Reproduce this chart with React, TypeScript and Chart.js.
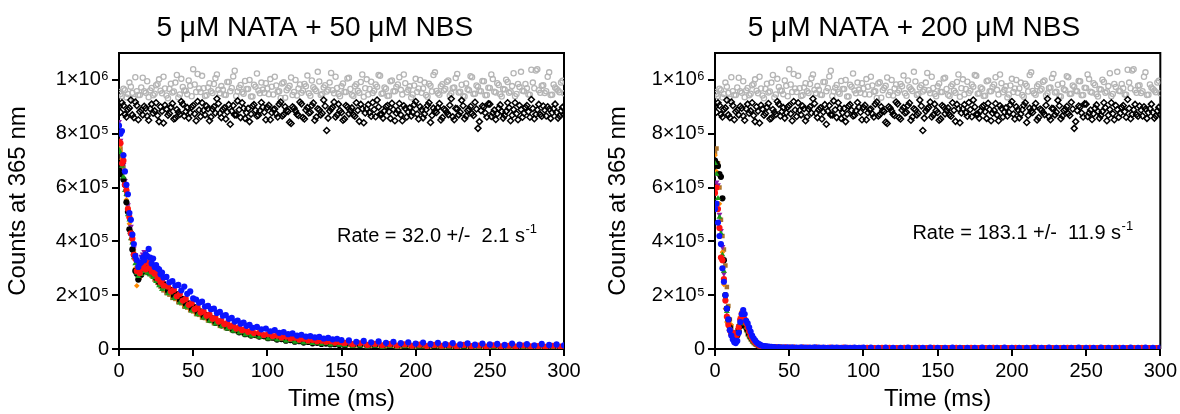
import React, { useEffect, useRef } from 'react';
import { Chart, registerables } from 'chart.js';

Chart.register(...registerables);

// ---------- DATA (values in thousands of counts) ----------
const Y_TICKS = [0, 200, 400, 600, 800, 1000];
const Y_TICK_TEXT = ['0', '2×10⁵', '4×10⁵', '6×10⁵', '8×10⁵', '1×10⁶'];
const X_TICKS = [0, 50, 100, 150, 200, 250, 300];

const TIME_BASE = [0,2,4,6,8,10,12,14,16,18,20,22,24,26,28,30,32,34,36,38,40,42,44,46,48,50,52,54,56,58,60,62,64,66,68,70,72,74,76,78,80,82,84,86,88,90,92,94,96,98,100,102,104,106,108,110,112,114,116,118,120,122,124,126,128,130,132,134,136,138,140,142,144,146,148,150,152,154,156,158,160,162,164,166,168,170,172,174,176,178,180,182,184,186,188,190,192,194,196,198,200,202,204,206,208,210,212,214,216,218,220,222,224,226,228,230,232,234,236,238,240,242,244,246,248,250,252,254,256,258,260,262,264,266,268,270,272,274,276,278,280,282,284,286,288,290,292,294,296,298,300];
const TIME_BASE_ODD = [1,3,5,7,9,11,13,15,17,19,21,23,25,27,29,31,33,35,37,39,41,43,45,47,49,51,53,55,57,59,61,63,65,67,69,71,73,75,77,79,81,83,85,87,89,91,93,95,97,99,101,103,105,107,109,111,113,115,117,119,121,123,125,127,129,131,133,135,137,139,141,143,145,147,149,151,153,155,157,159,161,163,165,167,169,171,173,175,177,179,181,183,185,187,189,191,193,195,197,199,201,203,205,207,209,211,213,215,217,219,221,223,225,227,229,231,233,235,237,239,241,243,245,247,249,251,253,255,257,259,261,263,265,267,269,271,273,275,277,279,281,283,285,287,289,291,293,295,297,299];

const CONTROL_GRAY = [
  955, 940, 962, 948, 975, 930, 958, 944, 1008, 952,
  936, 970, 949, 985, 960, 1012, 942, 966, 953, 990,
  935, 1004, 961, 947, 978, 1040, 955, 968, 1015, 940,
  972, 958, 985, 1020, 950, 963, 944, 992, 970, 1034,
  957, 981, 949, 966, 1000, 938, 975, 961, 990, 952,
  968, 1003, 946, 979, 958, 987, 934, 970, 1009, 955,
  942, 983, 961, 976, 950, 998, 965, 1030, 944, 972,
  957, 990, 962, 1012, 948, 976, 955, 1005, 966, 940,
  984, 952, 1020, 969, 946, 993, 960, 975, 1015, 950,
  967, 941, 998, 958, 983, 963, 1020, 954, 976, 946,
  1004, 968, 952, 990, 937, 978, 1018, 959, 945, 984,
  966, 998, 950, 972, 1022, 956, 940, 987, 962, 1010,
  949, 975, 958, 995, 944, 970, 1003, 953, 981, 938,
  964, 992, 957, 1025, 948, 974, 960, 985, 946, 1038,
  969, 1040, 952, 980, 958, 1028, 945, 972, 961, 990,
  950,
];
const CONTROL_GRAY_ODD = [
  948, 967, 935, 990, 952, 1010, 944, 972, 958, 995,
  961, 943, 980, 1002, 950, 968, 932, 986, 957, 1018,
  946, 974, 960, 998, 939, 983, 1022, 955, 969, 943,
  988, 951, 1006, 963, 977, 945, 992, 958, 1013, 940,
  971, 954, 996, 966, 938, 982, 1024, 950, 964, 988,
  947, 975, 1012, 956, 933, 991, 962, 978, 944, 1000,
  968, 952, 985, 1016, 941, 973, 959, 994, 948, 980,
  963, 1026, 950, 970, 939, 987, 955, 1008, 945, 976,
  960, 992, 937, 1002, 966, 951, 983, 1018, 949, 972,
  940, 995, 958, 974, 1010, 946, 988, 963, 935, 979,
  955, 1000, 968, 944, 986, 957, 1028, 950, 976, 961,
  993, 942, 970, 1007, 953, 982, 938, 965, 1014, 948,
  979, 960, 996, 943, 971, 1020, 956, 988, 947, 966,
  1001, 952, 977, 939, 985, 1030, 958, 969, 945, 990,
  1035, 962, 978, 951, 1012, 944, 983, 966, 954, 997,
];

const CONTROL_BLACK = [
  900, 915, 872, 890, 925, 860, 905, 882, 870, 895,
  850, 910, 885, 868, 900, 840, 892, 875, 912, 858,
  880, 920, 866, 897, 878, 905, 848, 888, 915, 870,
  893, 862, 900, 930, 876, 890, 855, 908, 884, 870,
  922, 860, 895, 878, 845, 903, 887, 869, 916, 880,
  898, 852, 890, 874, 910, 866, 900, 883, 838, 895,
  872, 918, 860, 888, 877, 905, 850, 893, 870, 925,
  812, 884, 898, 862, 910, 879, 855, 900, 886, 870,
  915, 846, 893, 877, 908, 865, 890, 925, 872, 858,
  900, 882, 913, 848, 887, 870, 904, 862, 896, 880,
  920, 855, 889, 873, 906, 842, 895, 879, 912, 860,
  888, 871, 930, 852, 893, 880, 904, 866, 891, 875,
  917, 820, 886, 899, 862, 910, 877, 853, 895, 883,
  868, 915, 848, 890, 874, 905, 861, 898, 882, 927,
  856, 889, 871, 903, 866, 892, 878, 910, 858, 885,
  870,
];
const CONTROL_BLACK_ODD = [
  880, 905, 862, 896, 870, 918, 852, 888, 902, 866,
  893, 876, 915, 845, 884, 906, 869, 898, 855, 890,
  872, 910, 882, 858, 899, 874, 920, 864, 887, 903,
  848, 892, 877, 912, 860, 896, 881, 835, 905, 870,
  889, 915, 857, 894, 873, 908, 866, 885, 899, 852,
  906, 878, 892, 862, 918, 871, 887, 843, 900, 884,
  868, 911, 855, 897, 880, 914, 862, 889, 876, 903,
  858, 893, 918, 870, 886, 850, 905, 874, 896, 865,
  887, 909, 841, 893, 878, 916, 863, 899, 872, 885,
  905, 857, 890, 876, 912, 848, 894, 881, 866, 908,
  873, 900, 859, 889, 915, 868, 884, 897, 851, 892,
  879, 906, 863, 894, 870, 924, 856, 886, 901, 868,
  892, 845, 903, 877, 911, 864, 888, 874, 907, 858,
  883, 897, 869, 915, 852, 890, 876, 905, 861, 894,
  872, 909, 865, 888, 900, 857, 893, 879, 866, 898,
];

// Left panel (50 µM NBS)
const TIME_LEFT = [0,1,2,3,4,5,6,7,8,9,10,11,12,13,14,15,16,17,18,19,20,21,22,23,24,25,26,27,28,29,30,
  32,34,36,38,40,42,44,46,48,50,52,54,56,58,60,62,64,66,68,70,72,74,76,78,80,82,84,86,88,90,
  93,96,99,102,105,108,111,114,117,120,123,126,129,132,135,138,141,144,147,150,
  155,160,165,170,175,180,185,190,195,200,205,210,215,220,225,230,235,240,245,250,255,260,265,270,275,280,285,290,295,300];
const TIME_LEFT_B = [0,1,2,3,4,5,6,7,8,9,10,11,12,13,14,15,16,17,18,19,20,21,22,23,24,25,26,27,28,29,30,
  33,35,37,39,41,43,45,47,49,51,53,55,57,59,61,63,65,67,69,71,73,75,77,79,81,83,85,87,89,91,
  94.5,97.5,100.5,103.5,106.5,109.5,112.5,115.5,118.5,121.5,124.5,127.5,130.5,133.5,136.5,139.5,142.5,145.5,148.5,151.5,
  152.5,157.5,162.5,167.5,172.5,177.5,182.5,187.5,192.5,197.5,202.5,207.5,212.5,217.5,222.5,227.5,232.5,237.5,242.5,247.5,252.5,257.5,262.5,267.5,272.5,277.5,282.5,287.5,292.5,297.5];

const LEFT_BLUE = [830,800,810,720,660,610,575,505,480,425,390,345,330,305,318,322,340,330,352,345,372,340,318,336,305,312,300,296,278,284,266,
  268,248,252,236,238,218,232,205,214,188,184,172,176,158,160,148,150,134,138,124,126,112,116,102,106,94,98,86,90,79,
  82,73,76,66,70,60,63,55,58,50,53,46,48,43,45,39,41,36,38,33,
  32,27,30,25,28,23,27,22,25,20,24,19,23,18,22,17,21,16,20,17,19,15,20,16,18,14,19,15,17,14];
const LEFT_RED = [770,765,690,700,610,590,520,490,430,410,350,335,290,295,282,308,300,318,296,322,300,312,288,300,280,286,262,270,248,256,236,
  232,214,220,196,204,180,186,164,170,148,154,136,140,124,128,112,116,102,106,92,96,84,88,76,80,70,73,64,67,59,
  60,52,55,48,50,43,46,39,42,35,38,32,34,29,31,27,29,24,26,22,
  23,18,21,15,19,14,18,13,17,12,16,11,15,12,14,10,15,11,13,9,14,10,12,9,13,10,11,8,12,9];
const LEFT_GREEN = [740,730,680,640,590,575,500,480,410,395,340,318,282,270,286,278,296,288,304,282,298,276,286,266,270,252,258,236,244,222,228,
  206,210,188,194,172,178,156,162,142,148,128,134,116,120,104,108,94,97,84,87,75,78,67,70,60,63,53,56,48,50,
  44,46,38,41,34,36,30,32,26,28,23,25,21,22,18,20,16,18,15,16,
  13,10,12,8,11,7,10,6,9,7,8,5,9,6,7,4,8,5,6,3,7,4,6,3,5,4,6,3,5,4];
const LEFT_BLACK = [665,650,690,630,610,545,510,445,430,370,350,290,280,258,288,276,305,290,312,296,284,302,292,280,286,264,270,248,256,236,240,
  216,220,198,204,182,186,166,170,150,156,136,140,122,126,110,114,98,102,88,91,79,82,70,73,62,65,55,58,50,52,
  46,48,40,42,35,37,31,33,27,29,24,26,21,23,19,20,17,18,15,16,
  14,11,13,9,12,8,11,7,10,8,9,6,10,7,8,5,9,6,7,4,8,5,7,4,6,5,7,3,6,4];
const LEFT_ORANGE = [750,735,705,655,615,555,525,465,435,395,355,300,235,272,268,284,290,305,284,300,296,288,290,276,272,262,260,246,248,234,232,
  216,212,198,192,180,176,162,160,147,145,133,131,120,118,108,107,97,96,87,86,78,78,71,70,64,63,57,57,52,51,
  47,46,42,41,38,37,34,33,30,30,27,27,24,24,22,22,20,19,18,18,
  16,14,15,12,14,11,13,10,12,10,11,9,11,8,10,8,10,7,9,7,9,6,8,7,8,6,8,6,7,6];
const LEFT_BROWN = [760,745,715,675,615,575,525,485,435,415,365,335,295,284,266,282,286,302,292,294,282,284,272,272,258,258,246,244,232,230,218,
  208,202,190,186,174,170,158,154,144,140,130,127,117,115,106,104,96,94,86,85,78,77,71,69,64,63,58,57,52,52,
  48,46,43,42,39,38,35,34,31,31,28,28,25,25,23,22,21,20,19,18,
  17,15,16,13,15,12,14,11,13,11,12,10,12,9,11,9,10,8,10,8,9,7,9,8,8,7,9,6,8,7];
const LEFT_PURPLE = [845,775,725,685,625,595,535,505,455,425,375,350,315,314,318,344,352,362,346,344,326,324,312,308,292,288,276,272,260,258,246,
  238,224,218,204,200,186,182,170,166,154,150,140,137,126,124,114,112,103,102,93,92,84,84,76,76,70,69,64,63,58,
  56,52,51,47,47,43,43,39,39,36,36,33,33,30,30,28,28,26,26,24,
  23,20,22,18,21,17,20,16,19,15,18,14,17,14,16,13,16,12,15,12,14,11,14,11,13,11,13,10,12,10];

// Right panel (200 µM NBS)
const TIME_RIGHT = [0,1,2,3,4,5,6,7,8,9,10,11,12,13,14,15,16,17,18,19,20,21,22,23,24,25,26,27,28,29,30,31,32,33,34,35,36,37,38,39,40,
  43,46,49,52,55,58,61,64,67,70,73,76,79,82,85,88,91,94,97,100,
  105,110,115,120,125,130,135,140,145,150,155,160,165,170,175,180,185,190,195,200,205,210,215,220,225,230,235,240,245,250,255,260,265,270,275,280,285,290,295,300];
const TIME_RIGHT_B = [0,1,2,3,4,5,6,7,8,9,10,11,12,13,14,15,16,17,18,19,20,21,22,23,24,25,26,27,28,29,30,31,32,33,34,35,36,37,38,39,40,
  41.5,44.5,47.5,50.5,53.5,56.5,59.5,62.5,65.5,68.5,71.5,74.5,77.5,80.5,83.5,86.5,89.5,92.5,95.5,98.5,
  102.5,107.5,112.5,117.5,122.5,127.5,132.5,137.5,142.5,147.5,152.5,157.5,162.5,167.5,172.5,177.5,182.5,187.5,192.5,197.5,202.5,207.5,212.5,217.5,222.5,227.5,232.5,237.5,242.5,247.5,252.5,257.5,262.5,267.5,272.5,277.5,282.5,287.5,292.5,297.5];

const RIGHT_BLUE = [520,540,470,420,390,300,250,200,150,110,70,50,35,25,22,30,60,100,130,145,130,105,95,80,65,50,40,32,25,20,17,14,12,11,10,9,9,8,8,7,7,
  7,6,6,6,5,6,5,5,6,5,5,4,5,5,4,5,4,5,4,5,
  5,4,5,4,4,5,4,4,5,4,4,5,4,4,4,5,4,4,5,4,4,4,5,4,5,4,4,4,5,4,4,5,4,4,4,5,4,5,4,5];
const RIGHT_RED = [580,600,520,450,340,330,260,180,120,90,70,55,60,45,40,55,80,110,130,125,110,95,80,65,50,40,32,25,20,16,13,11,10,9,8,8,7,7,6,6,6,
  6,5,6,5,5,4,5,5,4,5,4,4,5,4,4,5,4,4,3,4,
  4,3,4,4,3,4,3,4,3,4,3,3,4,3,4,3,3,4,3,3,4,3,3,4,3,3,3,4,3,3,4,3,3,3,4,3,3,4,3,3];
const RIGHT_GREEN = [690,650,560,490,430,350,290,190,140,100,80,60,50,40,45,55,70,95,110,105,95,80,65,50,40,32,25,20,16,13,11,9,8,7,7,6,6,5,5,5,5,
  5,4,4,4,3,4,3,3,4,3,3,3,2,3,3,2,3,2,3,2,
  2,3,2,2,3,2,2,2,3,2,2,2,3,2,2,2,2,3,2,2,2,3,2,2,2,2,3,2,2,2,2,3,2,2,2,2,3,2,2,2];
const RIGHT_BLACK = [700,690,680,650,640,560,330,200,150,110,80,62,50,42,40,50,65,85,100,105,95,80,70,55,45,36,30,25,20,17,14,12,10,9,8,8,7,7,6,6,6,
  5,5,4,4,4,3,4,3,3,4,3,3,3,2,3,3,2,3,3,2,
  3,2,3,2,2,3,2,3,2,2,3,2,2,3,2,2,2,3,2,2,3,2,2,2,3,2,2,2,3,2,2,2,3,2,2,2,2,3,2,2];
const RIGHT_ORANGE = [720,660,600,540,420,360,240,150,100,85,70,90,60,50,40,60,90,120,140,120,100,85,70,55,42,34,27,22,18,15,12,10,9,8,7,7,6,6,5,5,5,
  5,4,5,4,4,5,3,4,4,3,4,4,3,4,3,4,3,3,4,3,
  3,4,3,3,4,3,3,4,3,3,4,3,3,3,4,3,3,4,3,3,4,3,3,3,4,3,3,4,3,3,3,4,3,3,4,3,3,3,4,3];
const RIGHT_BROWN = [730,745,690,600,480,420,370,310,230,160,110,80,55,45,60,70,80,95,110,100,85,70,55,45,36,28,22,18,15,12,10,9,8,7,7,6,6,5,5,5,5,
  5,5,4,5,4,4,5,4,4,4,5,4,4,3,4,4,3,4,4,3,
  4,3,4,4,3,4,3,4,4,3,4,3,4,3,4,4,3,4,3,4,3,4,4,3,4,3,4,3,4,4,3,4,3,4,3,4,4,3,4,3];
const RIGHT_PURPLE = [650,620,610,500,440,380,280,200,140,100,75,60,50,45,50,65,85,105,115,110,95,80,65,50,40,32,26,21,17,14,12,10,9,8,7,7,6,6,5,5,5,
  5,4,4,5,4,4,3,4,4,3,4,3,3,4,3,3,4,3,3,3,
  3,2,3,3,2,3,3,2,3,2,3,3,2,3,2,3,3,2,3,2,3,2,3,3,2,3,2,3,2,3,3,2,3,2,3,2,3,3,2,3];

// ---------- STYLES ----------
const FONT = '"Liberation Sans", Arial, Helvetica, sans-serif';

type Style = { color: string; pointStyle: string; radius: number; rotation?: number };
const STYLE_BLUE: Style = { color: '#0a14ff', pointStyle: 'circle', radius: 3.1 };
const STYLE_RED: Style = { color: '#ff1010', pointStyle: 'circle', radius: 3.1 };
const STYLE_GREEN: Style = { color: '#1a9e1a', pointStyle: 'triangle', radius: 3.4 };
const STYLE_BLACK: Style = { color: '#000000', pointStyle: 'circle', radius: 3.1 };
const STYLE_ORANGE: Style = { color: '#ff8a00', pointStyle: 'rectRot', radius: 2.8 };
const STYLE_BROWN: Style = { color: '#a8712c', pointStyle: 'rect', radius: 3.2 };
const STYLE_PURPLE: Style = { color: '#8a1aa8', pointStyle: 'triangle', radius: 3.4, rotation: 180 };

function pts(times: number[], vals: number[]) {
  const n = Math.min(times.length, vals.length);
  const out: { x: number; y: number }[] = [];
  for (let i = 0; i < n; i++) out.push({ x: times[i], y: vals[i] });
  return out;
}

function filled(label: string, times: number[], vals: number[], s: Style) {
  return {
    label,
    data: pts(times, vals),
    pointStyle: s.pointStyle,
    pointRadius: s.radius,
    pointRotation: s.rotation ?? 0,
    pointBackgroundColor: s.color,
    pointBorderColor: s.color,
    pointBorderWidth: 0,
    showLine: false,
  };
}

function controlSets() {
  const diamond = {
    pointStyle: 'rectRot',
    pointRadius: 3,
    pointBackgroundColor: 'rgba(255,255,255,0)',
    pointBorderColor: '#000',
    pointBorderWidth: 1.5,
    showLine: false,
  };
  const ring = {
    pointStyle: 'circle',
    pointRadius: 2.6,
    pointBackgroundColor: 'rgba(255,255,255,0)',
    pointBorderColor: '#b5b5b5',
    pointBorderWidth: 1.3,
    showLine: false,
  };
  return [
    { label: 'control diamonds a', data: pts(TIME_BASE, CONTROL_BLACK), ...diamond },
    { label: 'control diamonds b', data: pts(TIME_BASE_ODD, CONTROL_BLACK_ODD), ...diamond },
    { label: 'control circles a', data: pts(TIME_BASE, CONTROL_GRAY), ...ring },
    { label: 'control circles b', data: pts(TIME_BASE_ODD, CONTROL_GRAY_ODD), ...ring },
  ];
}

type PanelCfg = {
  title: string;
  rate: string;
  rateAt: [number, number];
  titleAt: [number, number];
  padLeft: number;
  yWidth: number;
  padRight: number;
  datasets: any[];
};

const LEFT_CFG: PanelCfg = {
  title: '5 μM NATA + 50 μM NBS',
  rate: 'Rate = 32.0 +/-  2.1 s',
  rateAt: [147, 398],
  titleAt: [132, 36],
  padLeft: 0,
  yWidth: 119,
  padRight: 26,
  datasets: [
    filled('blue', TIME_LEFT, LEFT_BLUE, STYLE_BLUE),
    filled('red', TIME_LEFT_B, LEFT_RED, STYLE_RED),
    filled('green', TIME_LEFT_B, LEFT_GREEN, STYLE_GREEN),
    filled('black', TIME_LEFT_B, LEFT_BLACK, STYLE_BLACK),
    filled('purple', TIME_LEFT, LEFT_PURPLE, STYLE_PURPLE),
    filled('orange', TIME_LEFT, LEFT_ORANGE, STYLE_ORANGE),
    filled('brown', TIME_LEFT, LEFT_BROWN, STYLE_BROWN),
    ...controlSets(),
  ],
};

const RIGHT_CFG: PanelCfg = {
  title: '5 μM NATA + 200 μM NBS',
  rate: 'Rate = 183.1 +/-  11.9 s',
  rateAt: [133, 410],
  titleAt: [134, 36],
  padLeft: 10,
  yWidth: 115,
  padRight: 18,
  datasets: [
    filled('blue', TIME_RIGHT, RIGHT_BLUE, STYLE_BLUE),
    filled('red', TIME_RIGHT_B, RIGHT_RED, STYLE_RED),
    filled('green', TIME_RIGHT_B, RIGHT_GREEN, STYLE_GREEN),
    filled('black', TIME_RIGHT_B, RIGHT_BLACK, STYLE_BLACK),
    filled('purple', TIME_RIGHT, RIGHT_PURPLE, STYLE_PURPLE),
    filled('orange', TIME_RIGHT, RIGHT_ORANGE, STYLE_ORANGE),
    filled('brown', TIME_RIGHT, RIGHT_BROWN, STYLE_BROWN),
    ...controlSets(),
  ],
};

function makeChart(canvas: HTMLCanvasElement, cfg: PanelCfg) {
  const framePlugin = {
    id: 'frame',
    beforeDatasetsDraw(chart: any) {
      const { ctx, chartArea: a } = chart;
      ctx.save();
      ctx.strokeStyle = '#000';
      ctx.lineWidth = 2;
      ctx.beginPath();
      ctx.moveTo(a.left, a.top);
      ctx.lineTo(a.right, a.top);
      ctx.lineTo(a.right, a.bottom);
      ctx.stroke();
      ctx.restore();
    },
  };
  const textPlugin = {
    id: 'panelText',
    afterDraw(chart: any) {
      const { ctx } = chart;
      const xs = chart.scales.x;
      const ys = chart.scales.y;
      ctx.save();
      ctx.fillStyle = '#000';
      ctx.font = `28px ${FONT}`;
      ctx.textAlign = 'center';
      ctx.textBaseline = 'alphabetic';
      ctx.fillText(cfg.title, xs.getPixelForValue(cfg.titleAt[0]), cfg.titleAt[1]);
      const rx = xs.getPixelForValue(cfg.rateAt[0]);
      const ry = ys.getPixelForValue(cfg.rateAt[1]);
      ctx.textAlign = 'left';
      ctx.font = `20px ${FONT}`;
      ctx.fillText(cfg.rate, rx, ry);
      const w = ctx.measureText(cfg.rate).width;
      ctx.font = `13px ${FONT}`;
      ctx.fillText('-1', rx + w + 0.5, ry - 9);
      ctx.restore();
    },
  };

  return new Chart(canvas, {
    type: 'scatter',
    data: { datasets: cfg.datasets },
    options: {
      animation: false,
      responsive: false,
      maintainAspectRatio: false,
      layout: { padding: { left: cfg.padLeft, right: cfg.padRight, top: 53, bottom: 0 } },
      plugins: {
        legend: { display: false },
        tooltip: { enabled: false },
        title: { display: false },
      },
      scales: {
        x: {
          type: 'linear',
          position: 'bottom',
          min: 0,
          max: 300,
          afterBuildTicks: (s: any) => {
            s.ticks = X_TICKS.map((v) => ({ value: v }));
          },
          ticks: {
            autoSkip: false,
            maxRotation: 0,
            color: '#000',
            padding: 3,
            font: { family: FONT, size: 20 },
          },
          grid: { drawOnChartArea: false, drawTicks: true, tickLength: 7, color: '#000', lineWidth: 2 },
          border: { display: true, color: '#000', width: 2 },
          title: {
            display: true,
            text: 'Time (ms)',
            color: '#000',
            font: { family: FONT, size: 24 },
            padding: { top: 0, bottom: 0 },
          },
          afterFit: (s: any) => {
            s.height = 65;
          },
        },
        y: {
          type: 'linear',
          position: 'left',
          min: 0,
          max: 1100,
          afterBuildTicks: (s: any) => {
            s.ticks = Y_TICKS.map((v) => ({ value: v }));
          },
          ticks: {
            autoSkip: false,
            color: '#000',
            padding: 3,
            font: { family: FONT, size: 20 },
            callback: (v: any) => {
              const i = Y_TICKS.indexOf(Number(v));
              return i >= 0 ? Y_TICK_TEXT[i] : '';
            },
          },
          grid: { drawOnChartArea: false, drawTicks: true, tickLength: 7, color: '#000', lineWidth: 2 },
          border: { display: true, color: '#000', width: 2 },
          title: {
            display: true,
            text: 'Counts at 365 nm',
            color: '#000',
            font: { family: FONT, size: 24 },
            padding: { top: 4, bottom: 0 },
          },
          afterFit: (s: any) => {
            s.width = cfg.yWidth;
          },
        },
      },
    } as any,
    plugins: [framePlugin, textPlugin],
  });
}

function Panel({ cfg, left }: { cfg: PanelCfg; left: number }) {
  const ref = useRef<HTMLCanvasElement | null>(null);
  useEffect(() => {
    if (!ref.current) return;
    const chart = makeChart(ref.current, cfg);
    return () => chart.destroy();
  }, [cfg]);
  return (
    <canvas
      ref={ref}
      width={590}
      height={414}
      style={{ position: 'absolute', left, top: 0, width: 590, height: 414, display: 'block' }}
    />
  );
}

export default function App() {
  return (
    <div style={{ position: 'absolute', left: 0, top: 0, width: 1180, height: 414, background: '#fff', overflow: 'hidden' }}>
      <Panel cfg={LEFT_CFG} left={0} />
      <Panel cfg={RIGHT_CFG} left={590} />
    </div>
  );
}
